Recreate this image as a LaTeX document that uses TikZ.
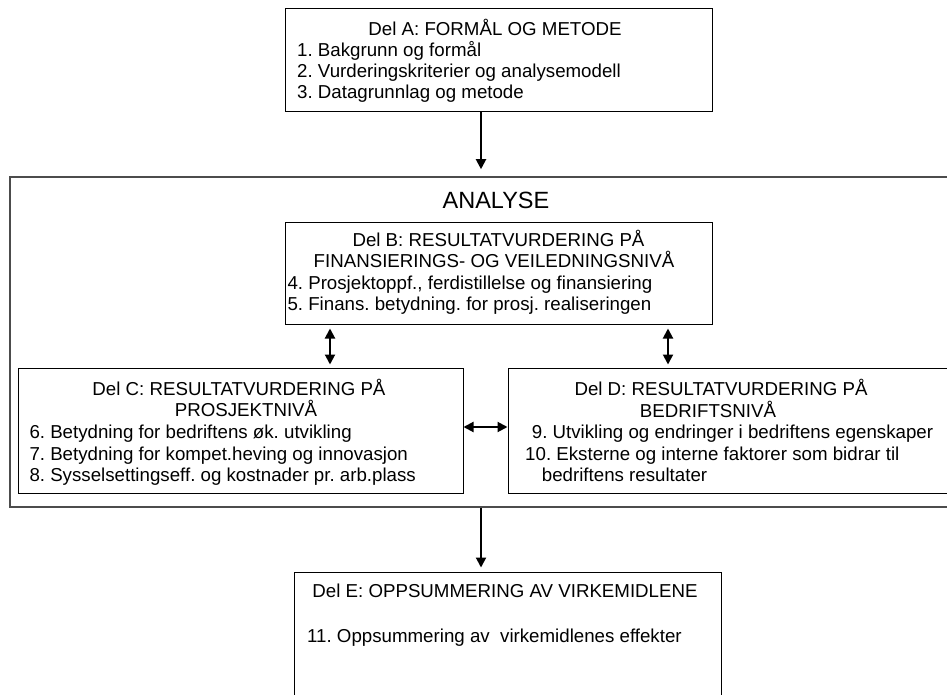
\documentclass[tikz,border=0pt]{standalone}
\usepackage{fontspec}
\setmainfont{Liberation Sans}
\frenchspacing
\usetikzlibrary{arrows.meta}
\tikzset{
  box/.style={draw, line width=1pt, inner sep=0pt},
  txt/.style={inner sep=0pt, font=\fontsize{18.7}{21}\selectfont},
  arr/.style={-{Triangle[length=10pt,width=10pt]}, line width=2pt},
  dbl/.style={{Triangle[length=10pt,width=10pt]}-{Triangle[length=10pt,width=10pt]}, line width=2pt},
}
\begin{document}
\begin{tikzpicture}[x=1pt,y=-1pt]
\useasboundingbox (0,0) rectangle (947,695);
\clip (0,0) rectangle (947,695);
% Del A
\node[box, minimum width=427pt, minimum height=103pt] (delA) at (498.5,60.5){};
\node[txt, anchor=base] (titA) at (495,36) {Del A: FORMÅL OG METODE};
\node[txt, anchor=base west] (a1) at (297,57) {1. Bakgrunn og formål};
\node[txt, anchor=base west] (a2) at (297,78) {2. Vurderingskriterier og analysemodell};
\node[txt, anchor=base west] (a3) at (297,99) {3. Datagrunnlag og metode};
% analyse
\node[box, draw=black!70, line width=1.6pt, minimum width=972pt, minimum height=330pt] (analyse) at (496,342){};
\node[txt, font=\fontsize{23.5}{28}\selectfont, anchor=base] (titAn) at (496,208) {ANALYSE};
% Del B
\node[box, minimum width=427pt, minimum height=102pt] (delB) at (498.5,273){};
\node[txt, anchor=base] (titB1) at (498.5,246.7) {Del B: RESULTATVURDERING PÅ};
\node[txt, anchor=base] (titB2) at (494,267.7) {FINANSIERINGS- OG VEILEDNINGSNIVÅ};
\node[txt, anchor=base west] (b4) at (287.3,289) {4. Prosjektoppf., ferdistillelse og finansiering};
\node[txt, anchor=base west] (b5) at (287.3,310) {5. Finans. betydning. for prosj. realiseringen};
% Del C
\node[box, minimum width=445pt, minimum height=125pt] (delC) at (240.5,430.5){};
\node[txt, anchor=base] (titC1) at (239,395) {Del C: RESULTATVURDERING PÅ};
\node[txt, anchor=base] (titC2) at (246,416.7) {PROSJEKTNIVÅ};
\node[txt, anchor=base west] (c6) at (29.3,438) {6. Betydning for bedriftens øk. utvikling};
\node[txt, anchor=base west] (c7) at (29.3,460) {7. Betydning for kompet.heving og innovasjon};
\node[txt, anchor=base west] (c8) at (29.3,481.7) {8. Sysselsettingseff. og kostnader pr. arb.plass};
% Del D
\node[box, minimum width=445pt, minimum height=125pt] (delD) at (730.5,430.5){};
\node[txt, anchor=base] (titD1) at (721,395) {Del D: RESULTATVURDERING PÅ};
\node[txt, anchor=base] (titD2) at (708,417) {BEDRIFTSNIVÅ};
\node[txt, anchor=base west] (d9) at (531.7,438) {9. Utvikling og endringer i bedriftens egenskaper};
\node[txt, anchor=base west] (d10) at (525,460) {10. Eksterne og interne faktorer som bidrar til};
\node[txt, anchor=base west] (d10b) at (541.7,481.7) {bedriftens resultater};
% Del E
\node[box, minimum width=427pt, minimum height=148pt] (delE) at (507.5,646){};
\node[txt, anchor=base] (titE) at (505,597) {Del E: OPPSUMMERING AV VIRKEMIDLENE};
\node[txt, anchor=base west] (e11) at (307,642) {11. Oppsummering av~ virkemidlenes effekter};
% connectors
\draw[arr, shorten >=7pt] ([xshift=-17.5pt]delA.south) -- ([xshift=-17.5pt]delA.south |- analyse.north);
\draw[arr, shorten >=4pt] ([xshift=-15pt]analyse.south) -- ([xshift=-15pt]analyse.south |- delE.north);
\draw[dbl, shorten <=4pt, shorten >=3pt] (delB.south -| 330,0) -- (delC.north -| 330,0);
\draw[dbl, shorten <=4pt, shorten >=3pt] (delB.south -| 668,0) -- (delD.north -| 668,0);
\draw[dbl] (delC.east |- 0,427) -- (delD.west |- 0,427);
\end{tikzpicture}
\end{document}
